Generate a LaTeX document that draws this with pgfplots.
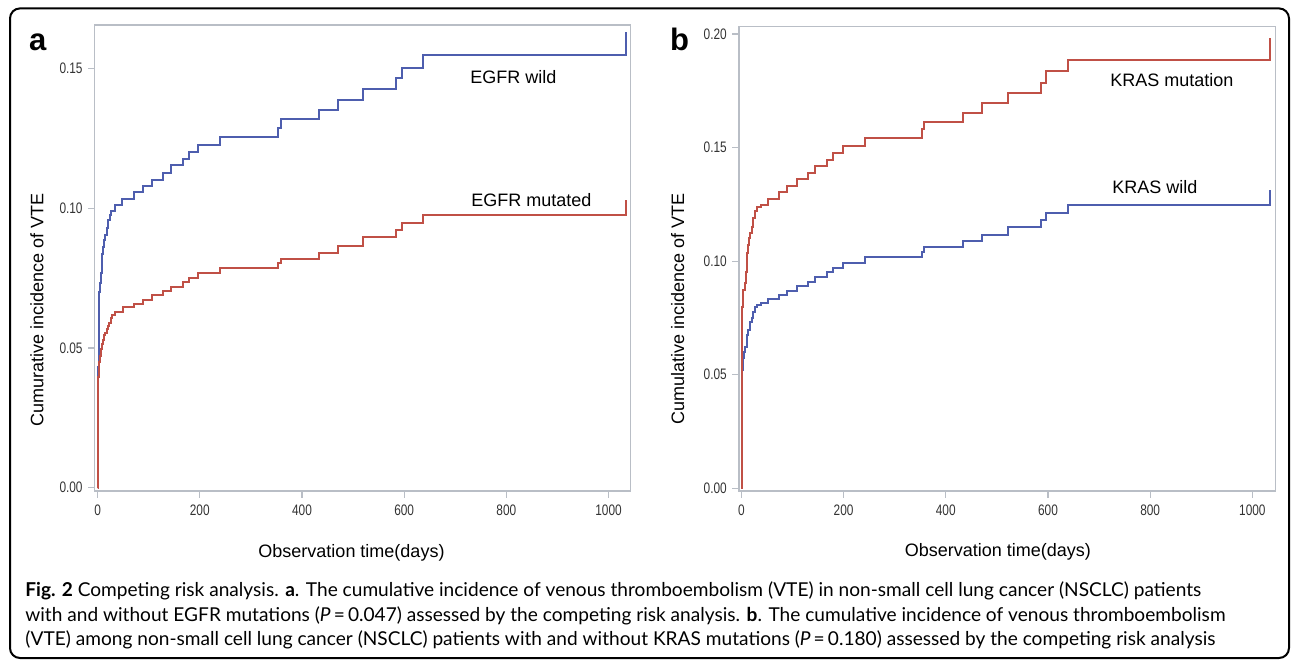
\documentclass[border=0pt]{standalone}
\usepackage{fontspec}
\setmainfont{Liberation Sans}
\newfontfamily\capfont{Lato}
\usepackage{pgfplots}
\pgfplotsset{compat=1.18}

\definecolor{cblue}{HTML}{4E5EAE}
\definecolor{cred}{HTML}{C05046}
\definecolor{boxgray}{HTML}{B9BEC6}
\definecolor{tickgray}{HTML}{333333}

\pgfplotsset{
  cif/.style={
    scale only axis, anchor=south west,
    axis line style={boxgray, line width=0.75pt},
    tick align=outside, tick pos=left,
    major tick length=3.3pt,
    every tick/.style={boxgray, line width=0.6pt},
    xtick={0,200,...,1000},
    /pgf/number format/assume math mode=true,
    /pgf/number format/1000 sep={},
    ticklabel style={font=\fontsize{7.6}{9}\selectfont, text=tickgray, xscale=0.78},
    yticklabel style={/pgf/number format/.cd, fixed, fixed zerofill, precision=2},
    label style={font=\fontsize{9}{11}\selectfont},
    xlabel style={anchor=center},
    ylabel style={anchor=center},
    every axis plot/.append style={const plot, line width=1pt},
    clip=false,
  },
}
\tikzset{curvelabel/.style={anchor=west, font=\fontsize{9}{11}\selectfont, inner sep=0pt}}

\begin{document}
\begin{tikzpicture}
\useasboundingbox (0,0) rectangle (646pt,-330pt);
\draw[line width=1pt, rounded corners=5pt] (5pt,-4.2pt) rectangle (644.5pt,-329pt);

% ---------- a: EGFR ----------
\begin{axis}[cif,
  at={(47.35pt,-245.5pt)}, width=267.9pt, height=233pt,
  xmin=-5.7, xmax=1043, ymin=-0.00118, ymax=0.16562,
  ytick={0,0.05,0.10,0.15},
  xlabel={Observation time(days)},
  ylabel={Cumurative incidence of VTE},
  xlabel style={at={(axis description cs:0.4793,-0.1324)}},
  ylabel style={at={(axis description cs:-0.1077,0.3884)}},
]
\addplot[cblue] coordinates {
(0,0) (0.6,0.0397) (1.4,0.0433) (2.0,0.0648) (2.7,0.0702) (4.6,0.0731)
(6,0.0770) (7.9,0.0803) (9.5,0.0835) (11.1,0.0863) (12.8,0.0885)
(14.4,0.0904) (17.6,0.0928) (20.9,0.0958) (24.1,0.0976) (27,0.099)
(34,0.1013) (48,0.1034) (72,0.1058) (89,0.1081) (107,0.1102)
(128,0.1126) (144.5,0.1154) (166.5,0.1178) (178,0.1203) (197,0.1228)
(240,0.1255) (352.5,0.1289) (358.3,0.132) (432.4,0.1352) (470.3,0.1388)
(519.7,0.1426) (584,0.1465) (595.5,0.1503) (636.7,0.1549) (1034,0.163)
};
\addplot[cred] coordinates {
(0,0) (0.6,0.0397) (2,0.0431) (3.5,0.0451) (5,0.0470) (6.7,0.0495)
(8.5,0.0515) (10.8,0.0530) (13,0.0545) (14.9,0.0555) (17.6,0.0567)
(20,0.0578) (23,0.0590) (25.5,0.0606) (28,0.0618) (34,0.063)
(49,0.0646) (72,0.0657) (88,0.0671) (107,0.0691) (128.5,0.0704)
(144.5,0.0719) (166.5,0.0736) (178,0.0751) (197,0.0767) (240,0.0785)
(352.5,0.0803) (358.3,0.0818) (432.4,0.0839) (470.3,0.0866)
(519.7,0.0896) (584,0.0922) (595.5,0.0948) (636.7,0.0976) (1034,0.1029)
};
\node[curvelabel] at (axis cs:728.8,0.1471) {EGFR wild};
\node[curvelabel] at (axis cs:730.8,0.1030) {EGFR mutated};
\end{axis}

% ---------- b: KRAS ----------
\begin{axis}[cif,
  at={(369.45pt,-245.5pt)}, width=268.2pt, height=232.15pt,
  xmin=-4.8, xmax=1044.9, ymin=-0.00119, ymax=0.20317,
  ytick={0,0.05,0.10,0.15,0.20},
  xlabel={Observation time(days)},
  ylabel={Cumulative incidence of VTE},
  xlabel style={at={(axis description cs:0.483,-0.1307)}},
  ylabel style={at={(axis description cs:-0.1139,0.392)}},
]
\addplot[cblue] coordinates {
(0,0) (1,0.0521) (3.9,0.0572) (5.5,0.0600) (7.2,0.0623) (10.4,0.0653)
(12,0.0675) (13.7,0.0697) (17,0.0733) (20.2,0.0748) (23.5,0.0777)
(26.7,0.0797) (30,0.0807) (37.7,0.0817) (51.3,0.0833) (73.7,0.0851)
(89.7,0.0870) (108.2,0.0889) (129.8,0.0908) (144.2,0.0931) (167.5,0.0951)
(179.5,0.0970) (199.5,0.0992) (242,0.1016) (352.6,0.1039) (358.2,0.1063)
(434.3,0.1088) (470.3,0.1115) (522.4,0.1151) (586.5,0.1181) (597,0.1213)
(638.6,0.1247) (1035,0.1313)
};
\addplot[cred] coordinates {
(0,0) (1,0.0799) (3.9,0.0873) (7.2,0.0902) (9,0.0950) (10.4,0.0997)
(12,0.1035) (13.7,0.1071) (15.5,0.1100) (17,0.1122) (20.2,0.1151)
(23.5,0.1188) (26.7,0.1222) (31,0.1237) (37.7,0.1247) (51.3,0.1275)
(73.7,0.1304) (89.7,0.1332) (108.2,0.136) (129.8,0.1388) (144.2,0.1419)
(167.5,0.1445) (179.5,0.1477) (199.5,0.1508) (242,0.1543) (352.6,0.158)
(358.2,0.1614) (434.3,0.1653) (470.3,0.1697) (522.4,0.1739) (586.5,0.1785)
(597,0.1837) (638.6,0.1885) (1035,0.198)
};
\node[curvelabel] at (axis cs:721.4,0.1797) {KRAS mutation};
\node[curvelabel] at (axis cs:725.4,0.1327) {KRAS wild};
\end{axis}

% panel letters
\node[anchor=base west, inner sep=0pt, font=\fontsize{15.5}{18}\selectfont\bfseries] at (14.3pt,-25pt) {a};
\node[anchor=base west, inner sep=0pt, font=\fontsize{15.5}{18}\selectfont\bfseries] at (334.85pt,-25pt) {b};

% caption
\begin{scope}[every node/.style={anchor=base west, inner sep=0pt, font=\capfont\fontsize{9.55}{12}\selectfont}]
\node at (12.5pt,-298.35pt) {\textbf{Fig. 2} Competing risk analysis. \textbf{a}. The cumulative incidence of venous thromboembolism (VTE) in non-small cell lung cancer (NSCLC) patients};
\node at (12.5pt,-310.85pt) {with and without EGFR mutations (\textit{P}\,=\,0.047) assessed by the competing risk analysis. \textbf{b}. The cumulative incidence of venous thromboembolism};
\node at (12.5pt,-322.85pt) {(VTE) among non-small cell lung cancer (NSCLC) patients with and without KRAS mutations (\textit{P}\,=\,0.180) assessed by the competing risk analysis};
\end{scope}
\end{tikzpicture}
\end{document}
